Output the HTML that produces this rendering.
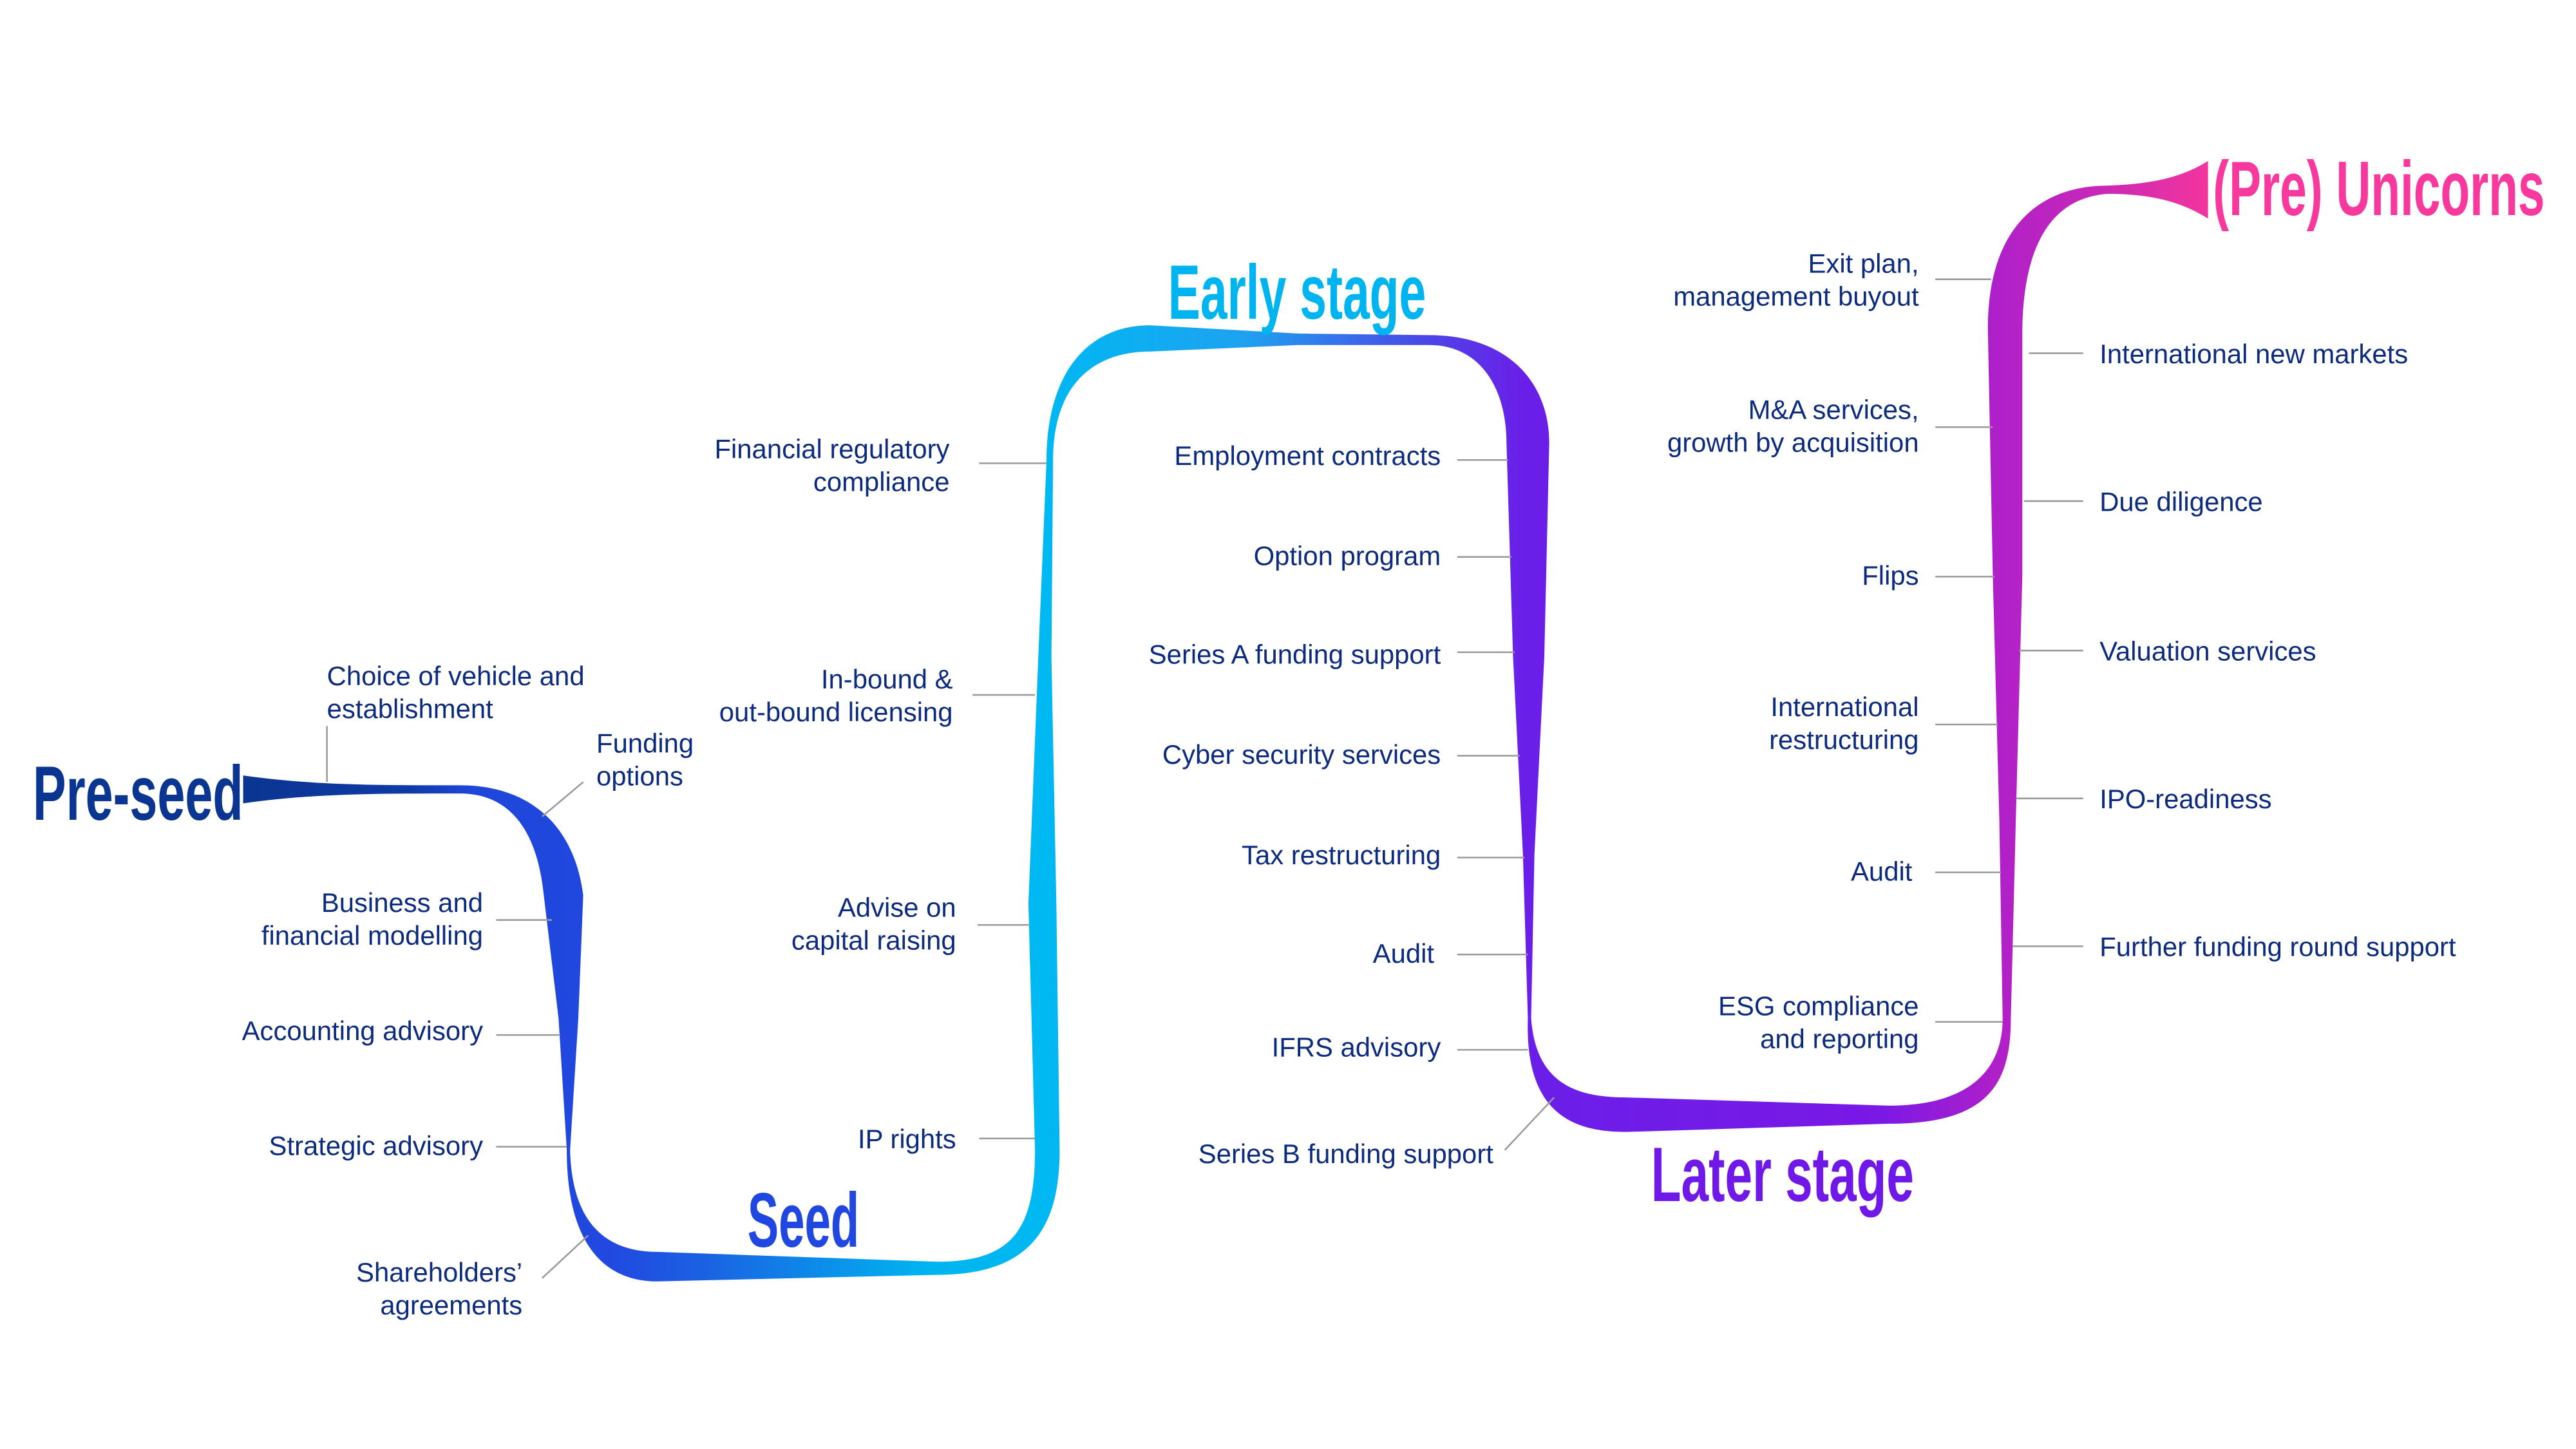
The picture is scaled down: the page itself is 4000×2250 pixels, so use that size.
<!DOCTYPE html>
<html><head><meta charset="utf-8"><style>
html,body{margin:0;padding:0;background:#fff;}
svg{display:block;}
.l{font-family:"Liberation Sans",sans-serif;font-size:16.4px;fill:#0d2b7e;}
.r{text-anchor:end;}
.h{font-family:"Liberation Sans Narrow","Liberation Sans",sans-serif;font-weight:bold;font-size:47px;}
.c{stroke:#9a9a9a;stroke-width:1;fill:none;}
</style></head><body>
<svg width="4000" height="2250" viewBox="0 0 1568 882" preserveAspectRatio="none" xmlns="http://www.w3.org/2000/svg">
<defs>
<linearGradient id="g" gradientUnits="userSpaceOnUse" x1="140" y1="0" x2="1350" y2="0">
<stop offset="0" stop-color="#0a3590"/>
<stop offset="0.09" stop-color="#0e3aa6"/>
<stop offset="0.12" stop-color="#1e46d8"/>
<stop offset="0.19" stop-color="#2148e0"/>
<stop offset="0.24" stop-color="#1a62e2"/>
<stop offset="0.35" stop-color="#00b4f0"/>
<stop offset="0.41" stop-color="#00b8f2"/>
<stop offset="0.51" stop-color="#1ea2f0"/>
<stop offset="0.60" stop-color="#4a48e6"/>
<stop offset="0.65" stop-color="#6a1fe8"/>
<stop offset="0.83" stop-color="#7a18e6"/>
<stop offset="0.89" stop-color="#b020c8"/>
<stop offset="0.94" stop-color="#c828b8"/>
<stop offset="1" stop-color="#f7369a"/>
</linearGradient>
</defs>

<path fill="url(#g)" d="
M148,472 C190,478 230,478 280,478
C325,478 350,505 355,545
L352,620 L347,700
C348,740 365,762 400,762
L570,768
C615,768 630,750 630,700
L626,550 L632,400 L637,280
C637,230 660,198 700,198
L790,203 L870,204
C915,204 943,230 943,270
L940,400 L934,520 L932,620
C935,660 960,668 990,668
L1150,673
C1200,673 1219,650 1219,620
L1217,500 L1213,350 L1210,200
C1210,140 1240,113 1283,113
C1310,112 1328,108 1344,98
L1344,133
C1328,123 1310,118 1283,118
C1255,120 1232,140 1231,200
L1231,350 L1227,500 L1224,620
C1224,660 1210,684 1150,684
L990,689
C960,689 928,680 930,620
L927,520 L921,400 L917,270
C917,235 900,210 870,210
L790,210 L700,214
C665,214 641,235 641,280
L640,400 L643,550 L645,700
C645,750 625,776 570,776
L400,780
C370,780 345,760 345,700
L340,620 L331,545
C327,505 310,483 280,483
C230,483 190,483 148,489 Z"/>

<!-- headings -->
<text class="h" x="20" y="499" textLength="128" lengthAdjust="spacingAndGlyphs" fill="#0a3590">Pre-seed</text>
<text class="h" x="455" y="759" textLength="68" lengthAdjust="spacingAndGlyphs" fill="#2048e0">Seed</text>
<text class="h" x="711" y="194" textLength="157" lengthAdjust="spacingAndGlyphs" fill="#00b4f0">Early stage</text>
<text class="h" x="1005" y="731" textLength="160" lengthAdjust="spacingAndGlyphs" fill="#6f18e8">Later stage</text>
<text class="h" x="1347" y="131" textLength="202" lengthAdjust="spacingAndGlyphs" fill="#f7389c">(Pre) Unicorns</text>

<!-- connectors -->
<path class="c" d="M199,442V476 M355,476L330,497 M302,560H336 M302,630H341 M302,698H345 M330,778L358,752
M596,282H637 M592,423H630 M595,563H627 M596,693H630
M887,280H918 M887,339H920 M887,397H922 M887,460H925 M887,522H928 M887,581H930 M887,639H930 M916,700L946,668
M1178,170H1212 M1178,260H1213 M1178,351H1214 M1178,441H1216 M1178,531H1218 M1178,622H1219
M1235,215H1268 M1232,305H1268 M1229,396H1268 M1227,486H1268 M1225,576H1268"/>

<!-- labels -->
<text class="l" x="199" y="417">Choice of vehicle and</text>
<text class="l" x="199" y="437">establishment</text>
<text class="l" x="363" y="458">Funding</text>
<text class="l" x="363" y="478">options</text>
<text class="l r" x="294" y="555">Business and</text>
<text class="l r" x="294" y="575">financial modelling</text>
<text class="l r" x="294" y="633">Accounting advisory</text>
<text class="l r" x="294" y="703">Strategic advisory</text>
<text class="l r" x="318" y="780">Shareholders’</text>
<text class="l r" x="318" y="800">agreements</text>

<text class="l r" x="578" y="279">Financial regulatory</text>
<text class="l r" x="578" y="299">compliance</text>
<text class="l r" x="580" y="419">In-bound &amp;</text>
<text class="l r" x="580" y="439">out-bound licensing</text>
<text class="l r" x="582" y="558">Advise on</text>
<text class="l r" x="582" y="578">capital raising</text>
<text class="l r" x="582" y="699">IP rights</text>

<text class="l r" x="877" y="283">Employment contracts</text>
<text class="l r" x="877" y="344">Option program</text>
<text class="l r" x="877" y="404">Series A funding support</text>
<text class="l r" x="877" y="465">Cyber security services</text>
<text class="l r" x="877" y="526">Tax restructuring</text>
<text class="l r" x="873" y="586">Audit</text>
<text class="l r" x="877" y="643">IFRS advisory</text>
<text class="l r" x="909" y="708">Series B funding support</text>

<text class="l r" x="1168" y="166">Exit plan,</text>
<text class="l r" x="1168" y="186">management buyout</text>
<text class="l r" x="1168" y="255">M&amp;A services,</text>
<text class="l r" x="1168" y="275">growth by acquisition</text>
<text class="l r" x="1168" y="356">Flips</text>
<text class="l r" x="1168" y="436">International</text>
<text class="l r" x="1168" y="456">restructuring</text>
<text class="l r" x="1164" y="536">Audit</text>
<text class="l r" x="1168" y="618">ESG compliance</text>
<text class="l r" x="1168" y="638">and reporting</text>

<text class="l" x="1278" y="221">International new markets</text>
<text class="l" x="1278" y="311">Due diligence</text>
<text class="l" x="1278" y="402">Valuation services</text>
<text class="l" x="1278" y="492">IPO-readiness</text>
<text class="l" x="1278" y="582">Further funding round support</text>
</svg>
</body></html>
